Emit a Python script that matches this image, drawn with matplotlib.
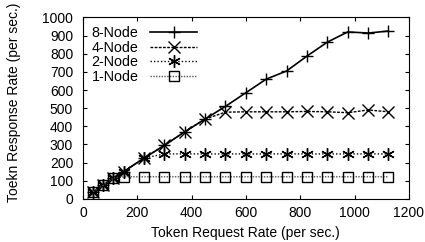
import matplotlib
matplotlib.use("Agg")
import matplotlib.pyplot as plt

plt.rcParams['font.family'] = ['Liberation Sans', 'DejaVu Sans']

# token request rate (per sec.)
req_rate = [37.5, 75, 112.5, 150, 225, 300, 375, 450, 525, 600, 675, 750, 825, 900, 975, 1050, 1125]

# response rate per cluster size
node8 = [40, 75, 115, 150, 225, 295, 370, 440, 510, 585, 660, 705, 787, 864, 920, 914, 925]
node4 = [40, 75, 115, 150, 225, 295, 370, 440, 478, 480, 480, 480, 482, 480, 475, 490, 480]
node2 = [40, 75, 115, 150, 225, 248, 248, 248, 248, 248, 248, 248, 248, 248, 248, 248, 248]
node1 = [40, 75, 115, 122, 122, 122, 122, 122, 122, 122, 122, 122, 122, 122, 122, 122, 122]

asterisk = (6, 2, 0)

fig = plt.figure(figsize=(4.25, 2.42), dpi=100)
ax = fig.add_axes([0.195, 0.178, 0.767, 0.75])

ax.plot(req_rate, node8, color='black', lw=1.2, ls='-', marker='+', ms=9, mew=1.0,
        label='8-Node')
ax.plot(req_rate, node4, color='black', lw=1.0, ls=(0, (2, 1)), marker='x', ms=8, mew=1.0,
        label='4-Node')
ax.plot(req_rate, node2, color='black', lw=1.0, ls=(0, (1, 1.5)), marker=asterisk, ms=9, mew=1.0,
        label='2-Node')
ax.plot(req_rate, node1, color='#555555', lw=1.0, ls=(0, (1, 1)), marker='s', ms=7, mew=1.0,
        mfc='none', mec='black', label='1-Node')

ax.set_xlim(0, 1200)
ax.set_ylim(0, 1000)
ax.set_xticks(range(0, 1201, 200))
ax.set_yticks(range(0, 1001, 100))
ax.tick_params(direction='in', top=True, right=True, labelsize=10, length=3)
ax.tick_params(axis='y', pad=7)
ax.tick_params(axis='x', pad=5)
ax.set_xlabel('Token Request Rate (per sec.)', fontsize=10)
ax.set_ylabel('Toekn Response Rate (per sec.)', fontsize=10)
ax.xaxis.set_label_coords(0.5, -0.15)
ax.yaxis.set_label_coords(-0.19, 0.53)

ax.legend(loc='upper left', frameon=False, fontsize=10.3, markerfirst=False,
          handlelength=3.3, labelspacing=0.05, borderaxespad=0.2,
          handletextpad=0.8, bbox_to_anchor=(0.0, 1.0))

fig.savefig('out.png', dpi=100)
